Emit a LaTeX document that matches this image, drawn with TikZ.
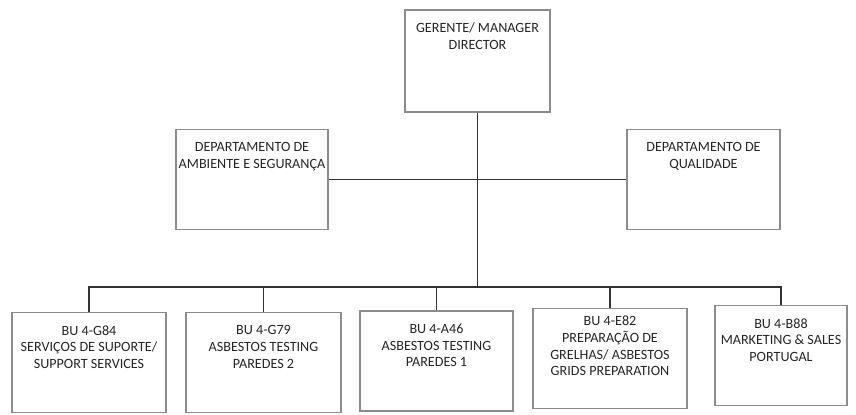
\documentclass[tikz,border=0pt]{standalone}
\usepackage{fontspec}
\setmainfont{Carlito}
\usepackage{tikz}

\tikzset{
  unitbox/.style={draw=black!45, line width=1.4pt, fill=white, minimum height=75pt, inner sep=0pt},
  unittext/.style={anchor=north, align=center, yshift=-7pt, font=\fontsize{10.6pt}{12.5pt}\selectfont, text=black!85},
  link/.style={draw=black!80, line width=0.9pt}
}

\begin{document}
\begin{tikzpicture}[x=0.75pt,y=0.75pt,yscale=-1,xscale=1]
\useasboundingbox (0,0) rectangle (856,414);

%Shape: Rectangle [gerente]
\node [unitbox, minimum width=108.75pt, minimum height=76.5pt,
  label={[unittext]north:GERENTE/ MANAGER\\DIRECTOR}] (gm) at (477.5,61) {};
%Shape: Rectangle [ambiente e seguranca]
\node [unitbox, minimum width=114pt,
  label={[unittext]north:DEPARTAMENTO DE\\AMBIENTE E SEGURANÇA}] (das) at (252,179.5) {};
%Shape: Rectangle [qualidade]
\node [unitbox, minimum width=114.75pt,
  label={[unittext]north:DEPARTAMENTO DE\\QUALIDADE}] (dq) at (703.5,179.5) {};

%Shape: Rectangle [BU G84]
\node [unitbox, minimum width=115.5pt,
  label={[unittext]north:BU 4-G84\\SERVIÇOS DE SUPORTE/\\SUPPORT SERVICES}] (bu1) at (89,362.5) {};
%Shape: Rectangle [BU G79]
\node [unitbox, minimum width=116.25pt,
  label={[unittext]north:BU 4-G79\\ASBESTOS TESTING\\PAREDES 2}] (bu2) at (263.5,362.5) {};
%Shape: Rectangle [BU A46]
\node [unitbox, minimum width=114.75pt,
  label={[unittext]north:BU 4-A46\\ASBESTOS TESTING\\PAREDES 1}] (bu3) at (436.5,361) {};
%Shape: Rectangle [BU E82]
\node [unitbox, minimum width=115.5pt,
  label={[unittext, yshift=4pt]north:BU 4-E82\\PREPARAÇÃO DE\\GRELHAS/ ASBESTOS\\GRIDS PREPARATION}] (bu4) at (610,358.5) {};
%Shape: Rectangle [BU B88]
\node [unitbox, minimum width=99pt,
  label={[unittext]north:BU 4-B88\\MARKETING \& SALES\\PORTUGAL}] (bu5) at (781,355.5) {};

%Straight Lines [bus]
\coordinate (bus) at (479,287);
\draw [link] (gm.south) -- (gm.south |- bus);
\draw [link] (das.east) -- (dq.west);
\draw [link] (bu1.north) -- (bu1.north |- bus) -- (bu5.north |- bus) -- (bu5.north);
\draw [link] (bu2.north) -- (bu2.north |- bus);
\draw [link] (bu3.north) -- (bu3.north |- bus);
\draw [link] (bu4.north) -- (bu4.north |- bus);

\end{tikzpicture}
\end{document}
